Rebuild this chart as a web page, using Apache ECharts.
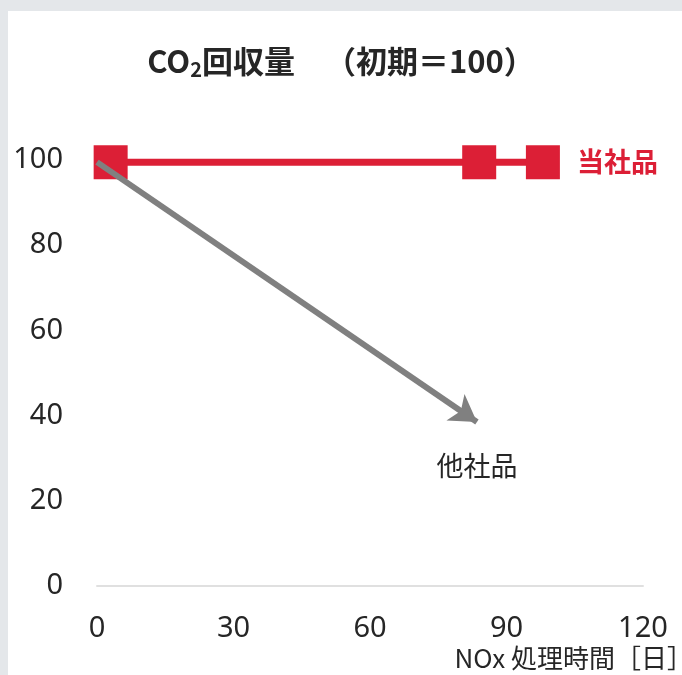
<!DOCTYPE html>
<html>
<head>
<meta charset="utf-8">
<script src="https://cdn.jsdelivr.net/npm/echarts@6/dist/echarts.min.js"></script>
<style>
  html, body { margin: 0; padding: 0; background: #e4e7ea; }
  #chart { width: 682px; height: 675px; }
</style>
</head>
<body>
<div id="chart"></div>
<script>
// X axis ticks (days of NOx treatment) and Y axis ticks (CO2 recovery index)
const xTicks = [0, 30, 60, 90, 120];
const yTicks = [0, 20, 40, 60, 80, 100];

// Own product: recovery stays flat at the initial level
const ownDays = [3, 84, 98];
const ownValues = [99.5, 99.5, 99.5];
const ownLabel = '当社品';

// Other products: decline drawn as an arrow from start to end
const otherDays = [0, 83.5];
const otherValues = [99.5, 38.5];
const otherLabel = '他社品';

const RED = '#dc1f36';
const GRAY = '#808080';
const TEXT = '#262626';
const FONT = '"Noto Sans", "Noto Sans CJK JP", sans-serif';
const CJK = '"Noto Sans CJK JP", "Noto Sans", sans-serif';

const chart = echarts.init(document.getElementById('chart'));

const ownData = ownDays.map((d, i) => [d, ownValues[i]]);
const otherStart = [otherDays[0], otherValues[0]];
const otherEnd = [otherDays[1], otherValues[1]];

chart.setOption({
  backgroundColor: '#e4e7ea',
  animation: false,
  title: {
    text: '{a|CO}{s|2}{a|回収量}{g|}{a|（初期＝100）}',
    left: 'center',
    top: 38,
    textStyle: {
      rich: {
        a: { fontFamily: CJK, fontSize: 31, fontWeight: 'bold', color: TEXT, lineHeight: 36 },
        s: { fontFamily: CJK, fontSize: 20, fontWeight: 'bold', color: TEXT, lineHeight: 36, padding: [17, 0, 0, 0] },
        g: { width: 30, lineHeight: 36 }
      }
    }
  },
  graphic: [
    {
      type: 'rect',
      z: -10,
      silent: true,
      shape: { x: 8, y: 11, width: 682, height: 675 },
      style: { fill: '#ffffff' }
    },
    {
      type: 'text',
      right: -11,
      top: 645,
      style: {
        text: 'NOx 処理時間［日］',
        font: '26px ' + CJK,
        fill: TEXT
      }
    }
  ],
  grid: { left: 97, right: 39, top: 160, bottom: 89, containLabel: false },
  xAxis: {
    type: 'value',
    min: xTicks[0],
    max: xTicks[xTicks.length - 1],
    interval: xTicks[1] - xTicks[0],
    axisLine: { show: true, lineStyle: { color: '#e0e0e0', width: 2 } },
    axisTick: { show: false },
    splitLine: { show: false },
    axisLabel: { margin: 28, fontSize: 29, fontFamily: FONT, color: TEXT }
  },
  yAxis: {
    type: 'value',
    min: yTicks[0],
    max: yTicks[yTicks.length - 1],
    interval: yTicks[1] - yTicks[0],
    axisLine: { show: false },
    axisTick: { show: false },
    splitLine: { show: false },
    axisLabel: { margin: 34, fontSize: 29, fontFamily: FONT, color: TEXT }
  },
  series: [
    {
      name: otherLabel,
      type: 'line',
      data: [],
      z: 1,
      markLine: {
        silent: true,
        symbol: ['none', 'arrow'],
        symbolSize: [24, 26],
        label: { show: false },
        lineStyle: { color: GRAY, width: 6, type: 'solid' },
        data: [[{ coord: otherStart }, { coord: otherEnd }]]
      },
      markPoint: {
        silent: true,
        symbol: 'circle',
        symbolSize: 0,
        label: {
          show: true,
          formatter: otherLabel,
          offset: [0, 44],
          fontFamily: CJK,
          fontSize: 27,
          color: TEXT
        },
        data: [{ coord: otherEnd }]
      }
    },
    {
      name: ownLabel,
      type: 'line',
      z: 3,
      data: ownData,
      symbol: 'rect',
      symbolSize: 34,
      itemStyle: { color: RED },
      lineStyle: { color: RED, width: 7 },
      label: {
        show: true,
        position: 'right',
        distance: 17,
        fontFamily: CJK,
        fontSize: 27,
        fontWeight: 'bold',
        color: RED,
        formatter: (p) => (p.dataIndex === ownData.length - 1 ? ownLabel : '')
      }
    }
  ]
});
</script>
</body>
</html>
